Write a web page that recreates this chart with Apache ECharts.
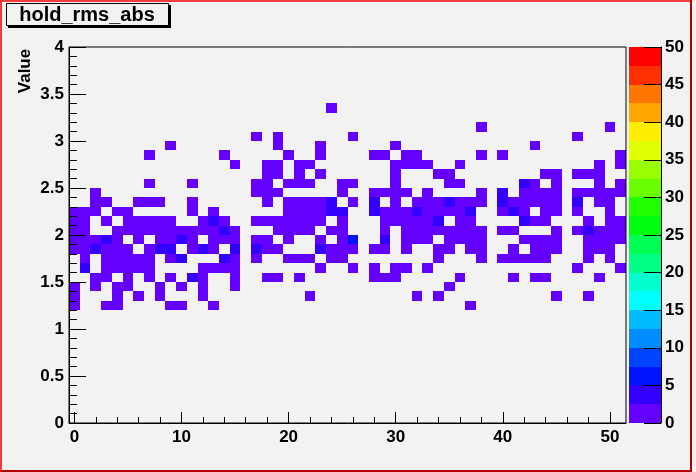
<!DOCTYPE html>
<html><head><meta charset="utf-8">
<script src="https://cdn.jsdelivr.net/npm/echarts@6/dist/echarts.min.js"></script>
<style>html,body{margin:0;padding:0;background:#f2f2f2;}#c{width:696px;height:472px;}</style>
</head><body><div id="c"></div>
<script>
// ---- data ----
const xTickValues = [0, 10, 20, 30, 40, 50];
const xMinorTickValues = [2,4,6,8,12,14,16,18,22,24,26,28,32,34,36,38,42,44,46,48];
const zLevels = [0,2.5,5,7.5,10,12.5,15,17.5,20,22.5,25,27.5,30,32.5,35,37.5,40,42.5,45,47.5];
const paletteColors = ['#6300ff','#3300ff','#0014ff','#0044ff','#008bff','#00bbff','#00fffc','#00ffcc','#00ff85','#00ff55',
                       '#00ff0e','#22ff00','#69ff00','#99ff00','#e0ff00','#ffee00','#ffa700','#ff7700','#ff3000','#ff0000'];
const yBinSize = 0.1;
// lower edges of the y bins that hold entries with count 1
const rowY = [3.3, 3.1, 3.0, 2.9, 2.8, 2.7, 2.6, 2.5, 2.4, 2.3, 2.2, 2.1, 2.0, 1.9, 1.8, 1.7, 1.6, 1.5, 1.4, 1.3, 1.2];
// x bins (centres) with count 1 for each row above
const rowX = [
  [24],
  [38, 50],
  [17, 19, 26, 47],
  [9, 19, 23, 30, 43],
  [7, 14, 20, 23, 28, 29, 31, 32, 38, 40, 51],
  [15, 18, 19, 21, 22, 30, 31, 32, 33, 36, 49, 51],
  [18, 19, 21, 23, 30, 34, 35, 44, 45, 47, 48, 49],
  [7, 11, 17, 18, 20, 21, 22, 25, 26, 30, 35, 36, 43, 45, 49, 51],
  [2, 17, 18, 19, 25, 28, 29, 30, 31, 33, 38, 42, 43, 44, 45, 47, 48, 49, 50, 51],
  [2, 3, 6, 7, 8, 11, 18, 20, 21, 22, 23, 26, 30, 32, 33, 34, 36, 37, 38, 41, 42, 43, 44, 45, 49, 50],
  [0, 1, 2, 4, 5, 11, 13, 20, 21, 22, 23, 29, 30, 31, 33, 34, 35, 36, 40, 42, 44, 45, 47, 50],
  [0, 1, 3, 5, 6, 7, 8, 9, 12, 14, 17, 18, 19, 20, 21, 22, 23, 25, 29, 30, 31, 32, 33, 36, 37, 43, 44, 48, 50, 51],
  [0, 1, 4, 5, 6, 7, 8, 9, 10, 11, 12, 13, 15, 19, 20, 21, 22, 24, 25, 29, 31, 32, 33, 34, 35, 36, 37, 38, 40, 41, 45, 47, 49, 50, 51],
  [0, 1, 2, 4, 6, 8, 9, 11, 13, 14, 15, 17, 18, 20, 23, 25, 31, 32, 33, 35, 36, 37, 38, 42, 43, 44, 45, 48, 49, 50, 51],
  [0, 1, 3, 4, 5, 7, 11, 13, 18, 19, 24, 25, 26, 28, 29, 31, 34, 35, 37, 38, 41, 43, 44, 45, 48, 49, 50],
  [1, 3, 4, 5, 6, 7, 9, 15, 17, 20, 21, 22, 24, 25, 34, 38, 40, 41, 42, 43, 44, 48, 50],
  [3, 4, 5, 6, 7, 12, 13, 14, 15, 23, 26, 28, 30, 31, 33, 47, 51],
  [2, 3, 5, 7, 9, 12, 15, 18, 19, 21, 28, 29, 30, 36, 41, 43, 44, 49],
  [0, 2, 4, 5, 8, 10, 12, 15, 35],
  [0, 4, 6, 8, 12, 22, 32, 34, 45, 48],
  [0, 3, 4, 9, 10, 13, 37]
];
// bins with higher counts: [x, yLow, count]
const highCells = [
  [42,2.5,3],[40,2.4,3],
  [24,2.3,3],[28,2.3,3],[35,2.3,3],[40,2.3,3],[47,2.3,3],
  [24,2.2,3],[25,2.2,3],[28,2.2,3],[32,2.2,3],[37,2.2,3],[41,2.2,3],
  [13,2.1,3],[34,2.1,3],[42,2.1,3],
  [14,2.0,3],[48,2.0,3],
  [3,1.9,3],[10,1.9,3],[29,1.9,3],[26,1.9,6],
  [2,1.8,3],[8,1.8,3],[9,1.8,3],[12,1.8,3],[15,1.8,3],[17,1.8,3],[23,1.8,3],
  [10,1.7,3],[14,1.7,3],
  [1,1.6,3],
  [11,1.5,3]
];

// ---- build ----
const cells = [];
rowY.forEach((y, i) => rowX[i].forEach(x => cells.push([x, y, 1])));
highCells.forEach(c => cells.push(c));

const FONT = '"Liberation Sans", Arial, Helvetica, sans-serif';
const lab = {color:'#000', fontSize:17, fontWeight:'bold', fontFamily:FONT};

function colorOf(v){
  let idx = Math.floor(v / 2.5);
  if (idx < 0) idx = 0; if (idx > paletteColors.length-1) idx = paletteColors.length-1;
  return paletteColors[idx];
}

const chart = echarts.init(document.getElementById('c'), null, {renderer:'canvas'});
chart.setOption({
  animation:false,
  backgroundColor:'#f2f2f2',
  grid:[
    {left:69, top:47, width:557, height:376, show:true, borderColor:'#000', borderWidth:1, backgroundColor:'transparent', z:10},
    {left:629, top:47, width:32, height:376, show:false}
  ],
  xAxis:[
    {type:'value', gridIndex:0, min:-0.5, max:51.5, position:'bottom', z:10,
     axisLine:{show:true, onZero:false, lineStyle:{color:'#000', width:1}},
     axisTick:{show:true, inside:true, length:11, customValues:xTickValues, lineStyle:{color:'#000', width:1}},
     axisLabel:{customValues:xTickValues, margin:6, ...lab},
     splitLine:{show:false}},
    {type:'value', gridIndex:0, min:-0.5, max:51.5, position:'bottom', z:10,
     axisLine:{show:false, onZero:false},
     axisTick:{show:true, inside:true, length:6, customValues:xMinorTickValues, lineStyle:{color:'#000', width:1}},
     axisLabel:{show:false}, splitLine:{show:false}},
    {type:'value', gridIndex:1, min:0, max:1, show:false}
  ],
  yAxis:[
    {type:'value', gridIndex:0, min:0, max:4, interval:0.5, z:10,
     axisLine:{show:true, onZero:false, lineStyle:{color:'#000', width:1}},
     axisTick:{show:true, inside:true, length:17, lineStyle:{color:'#000', width:1}},
     minorTick:{show:true, splitNumber:5, length:8, lineStyle:{color:'#000', width:1}},
     axisLabel:{margin:5, ...lab},
     splitLine:{show:false}, minorSplitLine:{show:false}},
    {type:'value', gridIndex:1, min:0, max:50, interval:5, position:'right', z:10,
     axisLine:{show:true, onZero:false, lineStyle:{color:'#000', width:1}},
     axisTick:{show:true, inside:true, length:17, lineStyle:{color:'#000', width:1}},
     axisLabel:{margin:4, ...lab},
     splitLine:{show:false}}
  ],
  series:[
    {type:'custom', name:'hold_rms_abs', xAxisIndex:0, yAxisIndex:0, data:cells, encode:{x:0, y:1},
     renderItem:function(params, api){
       const x = api.value(0), y = api.value(1), v = api.value(2);
       const p0 = api.coord([x - 0.5, y + yBinSize]);
       const p1 = api.coord([x + 0.5, y]);
       const x0 = Math.round(p0[0]), y0 = Math.round(p0[1]);
       const x1 = Math.round(p1[0]), y1 = Math.round(p1[1]);
       return {type:'rect', shape:{x:x0, y:y0, width:x1-x0, height:y1-y0}, style:{fill:colorOf(v)}};
     }},
    {type:'custom', name:'palette', xAxisIndex:2, yAxisIndex:1, data:zLevels.map((z,i)=>[0.5, z, i]), encode:{x:0, y:1},
     renderItem:function(params, api){
       const z = api.value(1), i = api.value(2);
       const p0 = api.coord([0, z + 2.5]);
       const p1 = api.coord([1, z]);
       const x0 = Math.round(p0[0]), y0 = Math.round(p0[1]);
       const x1 = Math.round(p1[0]), y1 = Math.round(p1[1]);
       return {type:'rect', shape:{x:x0, y:y0, width:x1-x0, height:y1-y0}, style:{fill:paletteColors[i]}};
     }}
  ],
  graphic:[
    {type:'rect', silent:true, shape:{x:0, y:0, width:692, height:2}, style:{fill:'#f03c3c'}},
    {type:'rect', silent:true, shape:{x:0, y:0, width:2, height:472}, style:{fill:'#f03c3c'}},
    {type:'rect', silent:true, shape:{x:690, y:0, width:2, height:472}, style:{fill:'#b00000'}},
    {type:'rect', silent:true, shape:{x:0, y:470, width:692, height:2}, style:{fill:'#b00000'}},
    {type:'rect', silent:true, shape:{x:8, y:5, width:163, height:23}, style:{fill:'#000'}},
    {type:'rect', silent:true, shape:{x:6.5, y:3.5, width:162, height:22}, style:{fill:'#f2f2f2', stroke:'#000', lineWidth:1}},
    {type:'text', silent:true, x:87, y:15, style:{text:'hold_rms_abs', fill:'#000', fontSize:20, fontWeight:'bold', fontFamily:FONT, align:'center', verticalAlign:'middle'}},
    {type:'text', silent:true, x:25, y:71, rotation:Math.PI/2, style:{text:'Value', fill:'#000', fontSize:17, fontWeight:'bold', fontFamily:FONT, align:'center', verticalAlign:'middle'}}
  ]
});
</script>
</body></html>
